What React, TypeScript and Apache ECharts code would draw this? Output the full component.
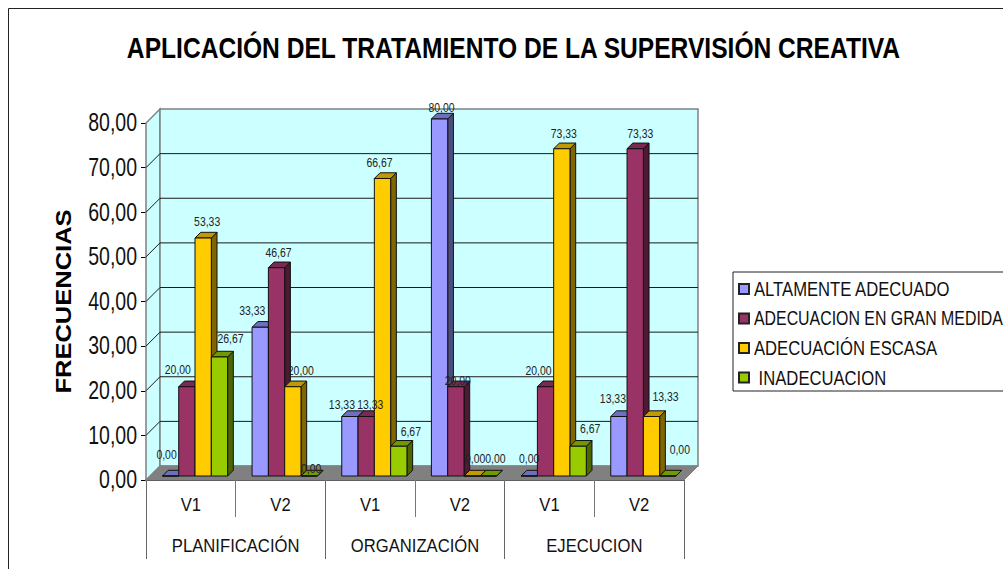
import React, { useEffect, useRef } from "react";
import * as echarts from "echarts";

const periods = ["V1", "V2", "V1", "V2", "V1", "V2"];
const stages = ["PLANIFICACIÓN", "ORGANIZACIÓN", "EJECUCION"];
const yTicks = [0, 10, 20, 30, 40, 50, 60, 70, 80];

const altamente = [0, 33.33, 13.33, 80, 0, 13.33];
const granMedida = [20, 46.67, 13.33, 20, 20, 73.33];
const escasa = [53.33, 20, 66.67, 0, 73.33, 13.33];
const inadecuacion = [26.67, 0, 6.67, 0, 6.67, 0];

const seriesDefs = [
  { name: "ALTAMENTE ADECUADO", values: altamente, front: "#9999FF", top: "#6F6FC0", side: "#4C4C80" },
  { name: "ADECUACION EN GRAN MEDIDA", values: granMedida, front: "#993366", top: "#7A2951", side: "#4D1A33" },
  { name: "ADECUACIÓN ESCASA", values: escasa, front: "#FFCC00", top: "#C09A00", side: "#806600" },
  { name: " INADECUACION", values: inadecuacion, front: "#99CC00", top: "#739900", side: "#4D6600" },
];

// hand-placed data label nudges of the original, per series and category
const labelNudges = [
  [[-4, -5], [-8, -1], [-8, 4.5], [2, 5], [0, -1], [-6, -1.5]],
  [[-9, -1], [2, 1], [4, 4.5], [2, 10], [-7, 0], [5, 1]],
  [[4, 0], [8, 0], [-3, 0], [3, -1], [2, 1], [14, -4]],
  [[11, -2], [2, 9], [12, 1], [7, -1], [12, -2], [12, -10]],
];

// The original's text is horizontally squeezed (or stretched): width factor per font size.
const widthBySize: Record<string, number> = { "30px": 0.82, "22px": 1.16, "25px": 0.78, "20px": 0.8325, "19px": 0.876, "12px": 0.87 };
const widthByText: Record<string, number> = { "ADECUACION EN GRAN MEDIDA": 0.795 };

const FONT = '"Liberation Sans", Arial, sans-serif';
const DEPTH = 14;
const BAR_DEPTH = 5.7;
const BAR_SHIFT = 4;
const BAR_FRAC = 0.1818;
const BAR_START = 0.183;
const EDGE = "#111";

const fmt = (v: number) => v.toFixed(2).replace(".", ",");

function squeezeTexts(root: HTMLElement) {
  root.querySelectorAll("text").forEach((el: any) => {
    const k = widthByText[el.textContent] || widthBySize[getComputedStyle(el).fontSize];
    if (!k) return;
    const current = el.getAttribute("transform") || "";
    if (el.dataset.squeezed && el.dataset.squeezed === current) return;
    const x = parseFloat(el.getAttribute("x") || "0");
    const next = `${current} translate(${x} 0) scale(${k} 1) translate(${-x} 0)`;
    el.setAttribute("transform", next);
    el.dataset.squeezed = next;
  });
}

function App() {
  const ref = useRef<HTMLDivElement>(null);
  useEffect(() => {
    document.body.style.margin = "0";
    document.body.style.overflow = "hidden";
    const chart = echarts.init(ref.current!, null, { renderer: "svg" });

    const wallRender = (_p: any, api: any) => {
      const [x0, y0] = api.coord([0, 0]);
      const band = api.size([1, 0])[0];
      const left = x0 - band / 2;
      const right = left + band * periods.length;
      const yTop = api.coord([0, yTicks[yTicks.length - 1]])[1];
      const wall = { fill: "#CCFFFF", stroke: "#808080", lineWidth: 1.5 };
      const children: any[] = [
        { type: "polygon", shape: { points: [[left, y0], [left + DEPTH, y0 - DEPTH], [left + DEPTH, yTop - DEPTH], [left, yTop]] }, style: wall },
        { type: "rect", shape: { x: left + DEPTH, y: yTop - DEPTH, width: right - left, height: y0 - yTop }, style: wall },
      ];
      yTicks.slice(1, -1).forEach((t) => {
        const y = api.coord([0, t])[1];
        children.push({ type: "polyline", shape: { points: [[left, y], [left + DEPTH, y - DEPTH], [right + DEPTH, y - DEPTH]] }, style: { fill: "none", stroke: "#1a1a1a", lineWidth: 1 } });
      });
      children.push({ type: "polyline", shape: { points: [[left, yTop], [left + DEPTH, yTop - DEPTH]] }, style: { fill: "none", stroke: "#808080", lineWidth: 1 } });
      children.push({ type: "polygon", shape: { points: [[left, y0], [right, y0], [right + DEPTH, y0 - DEPTH], [left + DEPTH, y0 - DEPTH]] }, style: { fill: "#808080", stroke: "#808080", lineWidth: 1 } });
      return { type: "group", children };
    };

    const barRender = (s: number) => (_p: any, api: any) => {
      const i = api.value(0);
      const v = api.value(1);
      const band = api.size([1, 0])[0];
      const c = api.coord([i, v]);
      const base = api.coord([i, 0]);
      const w = band * BAR_FRAC;
      const x = c[0] - band / 2 + band * BAR_START + w * s;
      const yt = c[1] - BAR_SHIFT;
      const yb = base[1] - BAR_SHIFT;
      const d = BAR_DEPTH;
      const def = seriesDefs[s];
      const st = (fill: string) => ({ fill, stroke: EDGE, lineWidth: 1 });
      return {
        type: "group",
        children: [
          { type: "polygon", shape: { points: [[x + w, yt], [x + w + d, yt - d], [x + w + d, yb - d], [x + w, yb]] }, style: st(def.side) },
          { type: "polygon", shape: { points: [[x, yt], [x + d, yt - d], [x + w + d, yt - d], [x + w, yt]] }, style: st(def.top) },
          { type: "rect", shape: { x, y: yt, width: w, height: yb - yt }, style: st(def.front) },
        ],
      };
    };

    const labelRender = (_p: any, api: any) => {
      const i = api.value(0);
      const s = api.value(1);
      const v = api.value(2);
      const band = api.size([1, 0])[0];
      const c = api.coord([i, v]);
      const w = band * BAR_FRAC;
      const n = labelNudges[s][i];
      return {
        type: "text",
        x: c[0] - band / 2 + band * BAR_START + w * s + w / 2 + n[0],
        y: c[1] - 20 + n[1],
        style: { text: fmt(v), font: `12px ${FONT}`, fill: "#222", textAlign: "center", textVerticalAlign: "middle" },
      };
    };

    const labelRows: number[][] = [];
    seriesDefs.forEach((d, s) => d.values.forEach((v, i) => labelRows.push([i, s, v])));

    chart.setOption({
      animation: false,
      backgroundColor: "#fff",
      title: {
        text: "APLICACIÓN DEL TRATAMIENTO DE LA SUPERVISIÓN CREATIVA",
        left: 508.5,
        top: 28,
        textAlign: "center",
        textStyle: { fontFamily: FONT, fontWeight: "bold", fontSize: 30, color: "#000" },
      },
      graphic: [
        { type: "rect", z: -10, silent: true, shape: { x: 8.5, y: 8.5, width: 1200, height: 800 }, style: { fill: "none", stroke: "#222", lineWidth: 1 } },
      ],
      legend: {
        left: 733,
        top: 272,
        orient: "vertical",
        data: seriesDefs.map((d) => ({ name: d.name, icon: "rect" })),
        itemWidth: 10,
        itemHeight: 10,
        itemGap: 9.5,
        selectedMode: false,
        padding: [7, 60, 3.5, 5],
        backgroundColor: "#fff",
        borderColor: "#222",
        borderWidth: 1,
        textStyle: { fontFamily: FONT, fontSize: 20, color: "#111" },
      },
      grid: { left: 146, top: 123, width: 538, height: 357 },
      xAxis: [
        {
          type: "category",
          position: "bottom",
          data: periods,
          axisLine: { show: true, lineStyle: { color: "#000", width: 1.5 } },
          axisTick: { show: true, interval: 0, length: 37, lineStyle: { color: "#777", width: 1 } },
          axisLabel: { interval: 0, margin: 15.5, fontFamily: FONT, fontSize: 19, color: "#111" },
        },
        {
          type: "category",
          position: "bottom",
          data: stages,
          axisLine: { show: false },
          axisTick: { show: true, interval: 0, length: 79, lineStyle: { color: "#666", width: 1 } },
          axisLabel: { interval: 0, margin: 56.5, fontFamily: FONT, fontSize: 19, color: "#111" },
        },
      ],
      yAxis: {
        type: "value",
        min: 0,
        max: 80,
        interval: 10,
        name: "FRECUENCIAS",
        nameLocation: "middle",
        nameGap: 72,
        nameMoveOverlap: false,
        nameTextStyle: { fontFamily: FONT, fontWeight: "bold", fontSize: 22, color: "#000" },
        splitLine: { show: false },
        axisLine: { show: true, lineStyle: { color: "#000", width: 1 } },
        axisTick: { show: true, length: 5, lineStyle: { color: "#000" } },
        axisLabel: { margin: 9, fontFamily: FONT, fontSize: 25, color: "#111", formatter: (v: number) => fmt(v) },
      },
      series: [
        { type: "custom", name: "walls", coordinateSystem: "cartesian2d", renderItem: wallRender, data: [[0, 0]], silent: true, z: 1 },
        ...seriesDefs.map((d, s) => ({
          type: "custom",
          name: d.name,
          coordinateSystem: "cartesian2d",
          renderItem: barRender(s),
          data: d.values.map((v, i) => [i, v]),
          itemStyle: { color: d.front, borderColor: "#222", borderWidth: 1 },
          z: 2 + s,
        })),
        { type: "custom", name: "labels", coordinateSystem: "cartesian2d", renderItem: labelRender, data: labelRows, encode: { x: 0, y: 2 }, silent: true, z: 10 },
      ],
    });
    squeezeTexts(ref.current!);
    chart.on("finished", () => squeezeTexts(ref.current!));
    return () => chart.dispose();
  }, []);
  return <div ref={ref} style={{ width: 1003, height: 569 }} />;
}

export default App;
